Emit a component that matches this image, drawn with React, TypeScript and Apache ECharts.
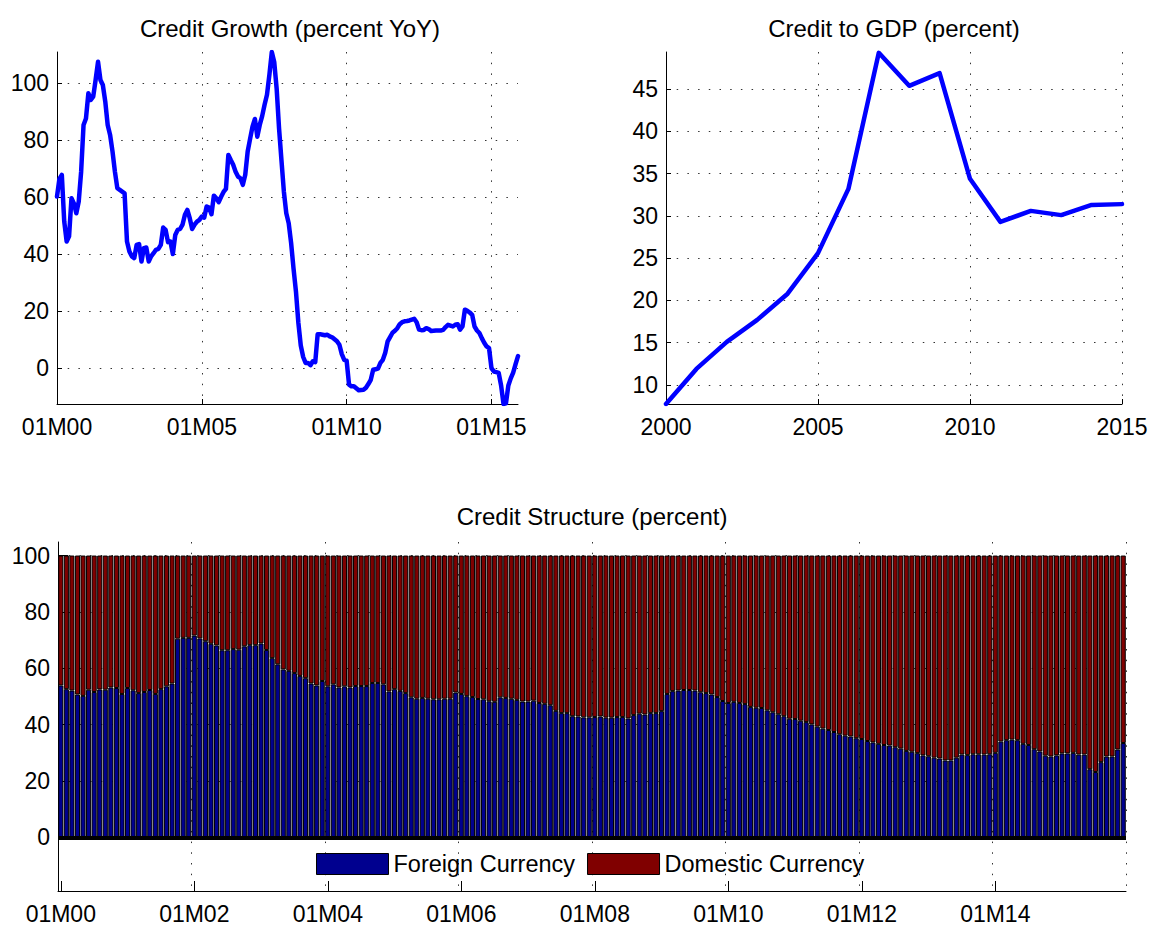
import React, { useEffect, useRef } from 'react';
import * as echarts from 'echarts';

// ---------- Data ----------
// Credit growth, percent YoY, monthly from Jan 2000 (index 0) to Dec 2015 (index 191)
const growthTickMonths = [0, 60, 120, 180];
const growthTickLabels = ['01M00', '01M05', '01M10', '01M15'];
const creditGrowth = [
  60.3, 66.5, 67.9, 51.5, 44.5, 46.3, 59.7, 57.9, 54.4, 58.5,
  69.0, 85.4, 87.7, 96.5, 94.2, 95.3, 101.2, 107.6, 101.2, 99.4,
  93.6, 85.4, 81.9, 76.1, 69.0, 63.2, 62.6, 62.0, 61.4, 44.5,
  41.0, 39.3, 38.7, 43.3, 43.6, 37.5, 42.2, 42.4, 37.5, 39.3,
  40.4, 41.6, 41.9, 43.3, 49.4, 48.6, 44.3, 44.5, 40.1, 46.8,
  48.6, 48.9, 50.4, 53.9, 55.6, 52.7, 48.9, 50.4, 51.5, 52.1,
  53.3, 52.9, 56.8, 56.4, 54.1, 60.6, 59.7, 58.3, 60.2, 61.9,
  63.0, 74.9, 73.1, 71.4, 69.0, 67.3, 66.7, 64.4, 67.9, 76.1,
  80.5, 84.8, 87.5, 81.3, 85.4, 88.5, 92.5, 96.0, 103.0, 111.0,
  107.5, 98.2, 84.2, 73.0, 62.0, 54.4, 50.9, 44.0, 35.0, 27.0,
  16.0, 8.0, 4.0, 1.9, 1.9, 1.1, 2.5, 2.2, 12.0, 12.0,
  11.8, 11.6, 11.8, 11.2, 10.9, 10.2, 9.5, 8.3, 5.0, 3.0,
  2.7, -5.7, -6.3, -6.3, -7.0, -7.7, -7.6, -7.5, -6.8, -5.5,
  -4.0, -0.5, -0.3, -0.1, 1.9, 3.0, 5.5, 9.5, 11.0, 12.5,
  13.2, 14.1, 15.5, 16.2, 16.5, 16.6, 16.8, 17.1, 17.4, 16.2,
  13.6, 13.4, 13.5, 14.1, 13.8, 13.1, 13.2, 13.3, 13.3, 13.3,
  13.5, 14.5, 15.3, 15.0, 14.7, 15.3, 15.5, 13.6, 14.7, 20.6,
  20.2, 19.6, 18.8, 14.7, 13.3, 12.4, 10.6, 9.0, 7.7, 7.1,
  0.1, -1.1, -1.3, -1.6, -6.0, -12.5, -12.3, -6.0, -3.5, -1.5,
  1.5, 4.3,
];

// Credit to GDP, percent, annual
const gdpYears = [2000, 2001, 2002, 2003, 2004, 2005, 2006, 2007, 2008, 2009, 2010, 2011, 2012, 2013, 2014, 2015];
const creditToGdp = [7.75, 11.9, 15.1, 17.7, 20.8, 25.6, 33.2, 49.3, 45.4, 46.9, 34.4, 29.3, 30.6, 30.1, 31.3, 31.4];

// Credit structure, percent, monthly Jan 2000 .. Dec 2015
const foreignShare = [
  53.9, 52.6, 52.1, 50.7, 50.2, 52.4, 51.6, 52.5, 52.4, 53.2,
  53.0, 50.9, 53.0, 52.2, 51.2, 51.6, 52.3, 50.9, 52.6, 53.6,
  54.6, 70.5, 70.8, 70.8, 71.6, 70.6, 69.6, 68.7, 68.1, 66.4,
  66.4, 66.8, 66.6, 67.8, 68.2, 68.2, 68.8, 66.5, 63.6, 61.4,
  59.6, 59.1, 58.3, 57.3, 56.5, 54.6, 53.9, 55.5, 53.6, 54.3,
  53.2, 53.6, 53.2, 53.7, 53.7, 53.7, 54.8, 54.8, 54.3, 51.8,
  52.6, 52.0, 51.2, 49.7, 49.2, 49.5, 49.2, 49.0, 49.0, 49.2,
  49.2, 51.4, 50.9, 50.1, 49.8, 49.1, 49.0, 48.3, 48.1, 49.7,
  49.5, 49.2, 48.8, 48.2, 48.2, 48.5, 47.7, 47.4, 46.9, 44.9,
  44.1, 44.1, 43.0, 42.9, 42.6, 42.6, 42.7, 42.9, 42.5, 42.5,
  42.7, 42.7, 42.2, 43.4, 43.9, 43.6, 44.1, 44.1, 44.8, 50.9,
  51.9, 52.1, 52.3, 52.3, 52.1, 51.5, 51.2, 50.7, 49.8, 48.4,
  47.7, 48.1, 47.7, 47.3, 46.3, 46.0, 45.9, 45.1, 44.4, 43.7,
  43.0, 42.1, 42.0, 41.4, 40.9, 40.1, 39.3, 38.6, 38.1, 37.4,
  36.6, 36.1, 35.8, 35.2, 34.9, 34.2, 33.7, 33.2, 32.8, 32.6,
  32.0, 31.5, 30.7, 30.4, 29.9, 29.1, 28.8, 28.3, 28.0, 27.3,
  27.3, 28.3, 29.4, 29.2, 29.5, 29.5, 29.4, 29.5, 30.0, 34.0,
  34.5, 34.7, 34.5, 33.2, 32.8, 31.3, 30.5, 29.0, 28.7, 29.1,
  29.8, 29.8, 30.0, 29.4, 29.4, 24.2, 23.2, 26.7, 28.7, 28.7,
  31.2, 33.5,
];
// the two shares make up 100 percent of credit
const domesticShare = foreignShare.map((v) => Math.round((100 - v) * 10) / 10);

const pad2 = (n: number) => String(n).padStart(2, '0');
const structureMonths = foreignShare.map((_, i) => `${pad2((i % 12) + 1)}M${pad2(Math.floor(i / 12))}`);

const titles = ['Credit Growth (percent YoY)', 'Credit to GDP (percent)', 'Credit Structure (percent)'];
const legendNames = ['Foreign Currency', 'Domestic Currency'];

// ---------- Styles ----------
const FONT = '"Liberation Sans", Arial, Helvetica, sans-serif';
const FS = 23;
const TITLE_FS = 24;
const labelStyle = { color: '#000', fontSize: FS, fontFamily: FONT };
const dotted = { color: '#333', width: 1, type: [1.5, 9.2] as any };
const axisLineStyle = { show: true, onZero: false, lineStyle: { color: '#000', width: 1 } };

export default function App() {
  const ref = useRef<HTMLDivElement>(null);

  useEffect(() => {
    if (!ref.current) return;
    const chart = echarts.init(ref.current, undefined, { renderer: 'svg' });

    const titleStyle = (text: string) => ({
      text,
      fill: '#000',
      font: `${TITLE_FS}px ${FONT}`,
      textAlign: 'center',
      textVerticalAlign: 'middle',
    });

    const option: any = {
      animation: false,
      backgroundColor: '#fff',
      textStyle: { fontFamily: FONT },
      grid: [
        { left: 57, top: 52, width: 461, height: 352 },
        { left: 666, top: 52, width: 456, height: 352 },
        { left: 58, top: 542, width: 1068, height: 352 },
      ],
      graphic: [
        { type: 'text', x: 290, y: 28, style: titleStyle(titles[0]) },
        { type: 'text', x: 894, y: 28, style: titleStyle(titles[1]) },
        { type: 'text', x: 592, y: 516, style: titleStyle(titles[2]) },
      ],
      legend: {
        data: legendNames,
        left: 316,
        top: 852,
        padding: 0,
        icon: 'rect',
        itemWidth: 72,
        itemHeight: 21,
        itemGap: 12,
        selectedMode: false,
        textStyle: { ...labelStyle, fontSize: 23.5 },
        itemStyle: { borderColor: '#000', borderWidth: 1 },
      },
      xAxis: [
        {
          type: 'value',
          gridIndex: 0,
          min: 0,
          max: 191,
          interval: 60,
          axisLine: axisLineStyle,
          axisTick: { show: true, inside: true, length: 5, lineStyle: { color: '#000' } },
          axisLabel: {
            ...labelStyle,
            margin: 11,
            showMaxLabel: false,
            formatter: (v: number) => {
              const k = growthTickMonths.indexOf(v);
              return k >= 0 ? growthTickLabels[k] : '';
            },
          },
          splitLine: { show: true, showMinLine: false, showMaxLine: false, lineStyle: dotted },
        },
        {
          type: 'value',
          gridIndex: 1,
          min: 2000,
          max: 2015,
          interval: 5,
          axisLine: axisLineStyle,
          axisTick: { show: true, inside: true, length: 5, lineStyle: { color: '#000' } },
          axisLabel: { ...labelStyle, margin: 11, formatter: (v: number) => String(v) },
          splitLine: { show: true, showMinLine: false, showMaxLine: true, lineStyle: dotted },
        },
        {
          type: 'category',
          gridIndex: 2,
          data: structureMonths,
          boundaryGap: true,
          axisLine: axisLineStyle,
          axisTick: {
            show: true,
            inside: true,
            length: 10,
            alignWithLabel: true,
            interval: (i: number) => i % 24 === 0,
            lineStyle: { color: '#000' },
          },
          axisLabel: { ...labelStyle, margin: 11, interval: (i: number) => i % 24 === 0 },
          splitLine: { show: true, interval: (i: number) => i % 24 === 0, lineStyle: dotted },
        },
      ],
      yAxis: [
        {
          type: 'value',
          gridIndex: 0,
          min: -12.5,
          max: 111,
          splitNumber: 6,
          axisLine: axisLineStyle,
          axisTick: { show: true, inside: true, length: 5, lineStyle: { color: '#000' } },
          axisLabel: {
            ...labelStyle,
            margin: 8,
            showMinLabel: false,
            showMaxLabel: false,
            formatter: (v: number) => (Math.abs(v % 20) < 1e-9 ? String(v) : ''),
          },
          splitLine: { show: true, showMinLine: false, showMaxLine: false, lineStyle: dotted },
        },
        {
          type: 'value',
          gridIndex: 1,
          min: 7.75,
          max: 49.4,
          splitNumber: 8,
          axisLine: axisLineStyle,
          axisTick: { show: true, inside: true, length: 5, lineStyle: { color: '#000' } },
          axisLabel: {
            ...labelStyle,
            margin: 8,
            showMinLabel: false,
            showMaxLabel: false,
            formatter: (v: number) => (Math.abs(v % 5) < 1e-9 ? String(v) : ''),
          },
          splitLine: { show: true, showMinLine: false, showMaxLine: false, lineStyle: dotted },
        },
        {
          type: 'value',
          gridIndex: 2,
          min: -19,
          max: 104.8,
          splitNumber: 6,
          axisLine: axisLineStyle,
          axisTick: { show: true, inside: true, length: 10, lineStyle: { color: '#000' } },
          axisLabel: {
            ...labelStyle,
            margin: 8,
            showMinLabel: false,
            showMaxLabel: false,
            formatter: (v: number) => (Math.abs(v % 20) < 1e-9 && v >= 0 ? String(Math.abs(v)) : ''),
          },
          splitLine: { show: true, showMinLine: false, showMaxLine: false, lineStyle: dotted },
        },
      ],
      series: [
        {
          type: 'line',
          xAxisIndex: 0,
          yAxisIndex: 0,
          data: creditGrowth.map((v, i) => [i, v]),
          showSymbol: false,
          lineStyle: { color: '#0000ff', width: 4.5, join: 'round', cap: 'round' },
          itemStyle: { color: '#0000ff' },
          silent: true,
        },
        {
          type: 'line',
          xAxisIndex: 1,
          yAxisIndex: 1,
          data: gdpYears.map((y, i) => [y, creditToGdp[i]]),
          showSymbol: false,
          lineStyle: { color: '#0000ff', width: 4.5, join: 'round', cap: 'round' },
          itemStyle: { color: '#0000ff' },
          silent: true,
        },
        {
          name: legendNames[0],
          type: 'bar',
          xAxisIndex: 2,
          yAxisIndex: 2,
          stack: 'structure',
          data: foreignShare,
          barCategoryGap: '8%',
          itemStyle: { color: '#00008f', borderColor: '#000', borderWidth: 1 },
          silent: true,
          markLine: {
            silent: true,
            symbol: 'none',
            label: { show: false },
            lineStyle: { color: '#000', width: 4, type: 'solid' },
            data: [{ yAxis: 0 }],
          },
        },
        {
          name: legendNames[1],
          type: 'bar',
          xAxisIndex: 2,
          yAxisIndex: 2,
          stack: 'structure',
          data: domesticShare,
          barCategoryGap: '8%',
          itemStyle: { color: '#800000', borderColor: '#000', borderWidth: 1 },
          silent: true,
        },
      ],
    };

    chart.setOption(option);
    return () => chart.dispose();
  }, []);

  return (
    <div
      ref={ref}
      style={{ position: 'absolute', left: 0, top: 0, width: 1154, height: 925, background: '#fff' }}
    />
  );
}
